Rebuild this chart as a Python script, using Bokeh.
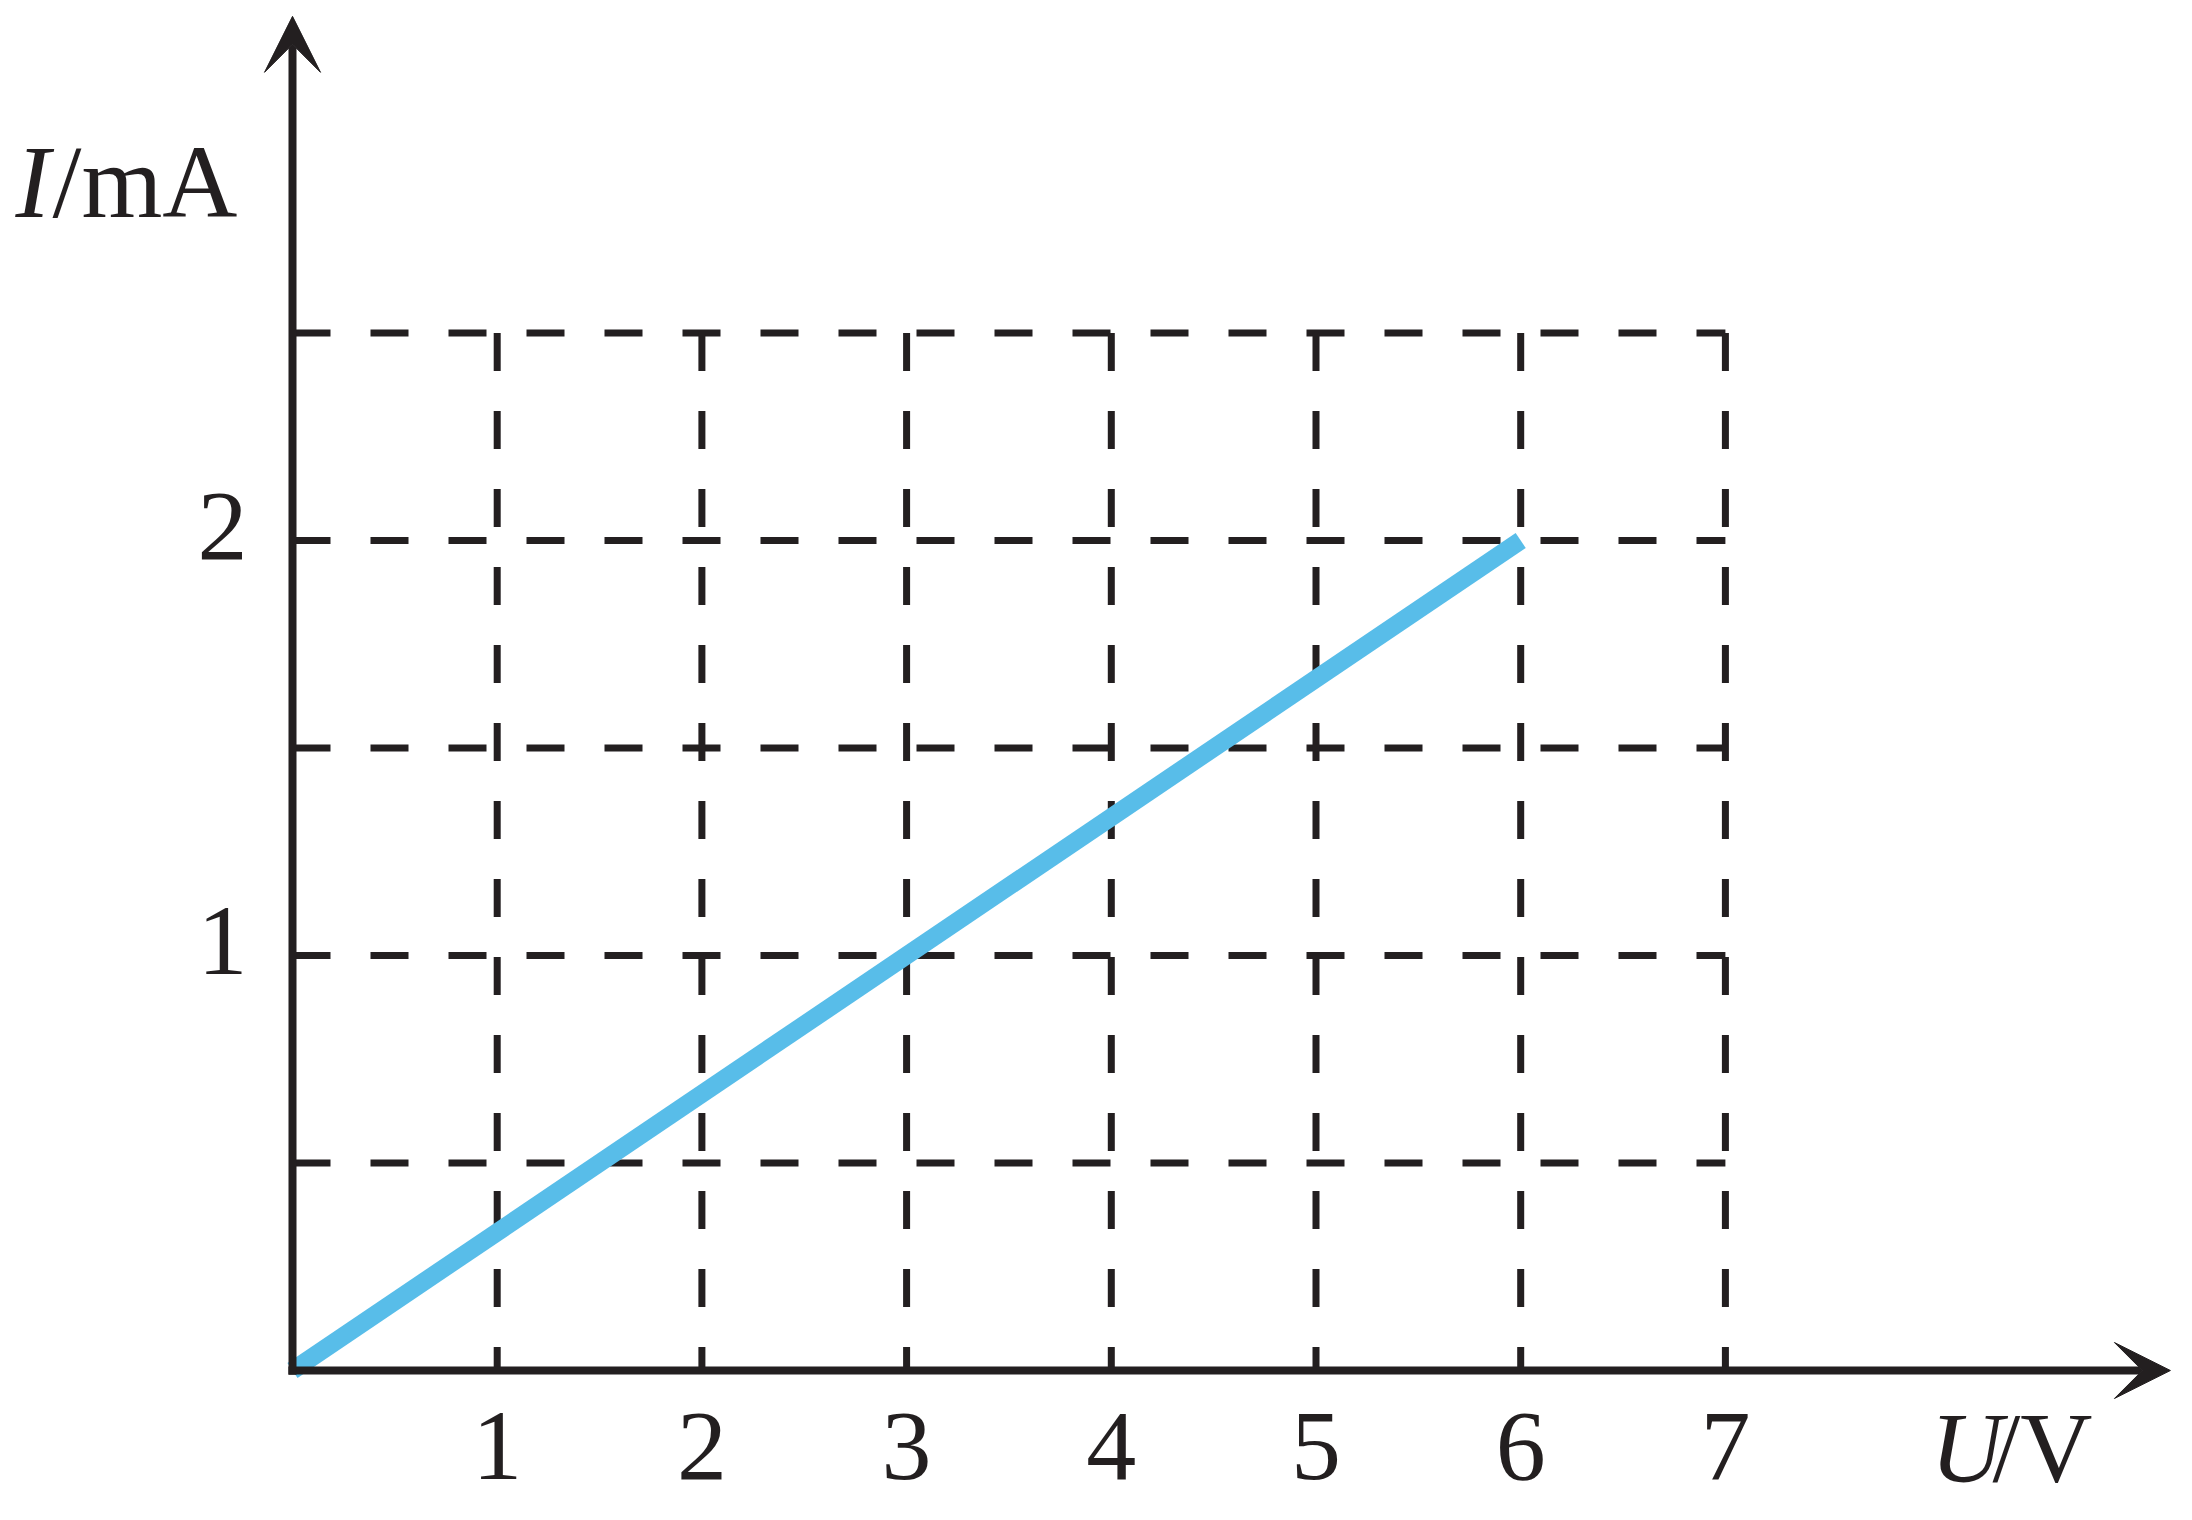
from bokeh.plotting import figure
from bokeh.models import Range1d, Arrow, VeeHead, Label, ColumnDataSource
from bokeh.core.properties import value
from bokeh.embed import file_html
from bokeh.resources import INLINE

# ---- data ----
u_line = [0, 6]          # U / V
i_line = [0, 2]          # I / mA
x_ticks = [1, 2, 3, 4, 5, 6, 7]
x_tick_labels = ["1", "2", "3", "4", "5", "6", "7"]
y_ticks = [1, 2]
y_tick_labels = ["1", "2"]
grid_x = [1, 2, 3, 4, 5, 6, 7]
grid_y = [0.5, 1, 1.5, 2, 2.5]
grid_x_max = 7
grid_y_max = 2.5
x_axis_end = 9.174
y_axis_end = 3.263

# ---- layout ----
W, H = 2176, 1504
ox, oy = 292, 1370          # origin in canvas pixels (oy from top)
sx, sy = 204.7, 415.0       # pixels per unit
TXT_SHIFT = 34              # empirical baseline correction (px)

p = figure(width=W, height=H, output_backend="svg", toolbar_location=None,
           x_axis_type=None, y_axis_type=None, min_border=0,
           x_range=Range1d(-ox / sx, (W - ox) / sx),
           y_range=Range1d(-(H - oy) / sy, oy / sy))
p.outline_line_color = None
p.grid.visible = False
p.background_fill_color = "white"
p.border_fill_color = "white"

INK = "#231f20"
FONT = value("Liberation Serif")
FS = value("100px")

# dashed grid
n_h = len(grid_y)
p.segment(x0=[0] * n_h, y0=grid_y, x1=[grid_x_max] * n_h, y1=grid_y,
          line_color=INK, line_width=7, line_dash="38 40")
n_v = len(grid_x)
p.segment(x0=grid_x, y0=[grid_y_max] * n_v, x1=grid_x, y1=[0] * n_v,
          line_color=INK, line_width=7, line_dash="38 40")

# data line
p.line(u_line, i_line, line_color="#58bde9", line_width=18)

# axes with arrows
p.add_layout(Arrow(x_start=-0.02, y_start=0, x_end=x_axis_end, y_end=0,
                   line_color=INK, line_width=8,
                   end=VeeHead(size=56, fill_color=INK, line_color=INK, line_width=1)))
p.add_layout(Arrow(x_start=0, y_start=-0.01, x_end=0, y_end=y_axis_end,
                   line_color=INK, line_width=8,
                   end=VeeHead(size=56, fill_color=INK, line_color=INK, line_width=1)))

# tick labels
xs = ColumnDataSource(dict(x=x_ticks, y=[0] * len(x_ticks), t=x_tick_labels))
p.text(x="x", y="y", text="t", source=xs, text_align="center",
       text_baseline="alphabetic", y_offset=110 - TXT_SHIFT, text_font=FONT,
       text_font_size=FS, text_color=INK)
ys = ColumnDataSource(dict(x=[0] * len(y_ticks), y=y_ticks, t=y_tick_labels))
p.text(x="x", y="y", text="t", source=ys, text_align="right",
       text_baseline="alphabetic", x_offset=-45, y_offset=20 - TXT_SHIFT, text_font=FONT,
       text_font_size=FS, text_color=INK)

# axis titles
def lab(px, py, t, style, size="104px"):
    p.add_layout(Label(x=(px - ox) / sx, y=(oy - py + TXT_SHIFT) / sy, text=t,
                       text_font="Liberation Serif",
                       text_font_size=size, text_font_style=style,
                       text_color=INK, text_baseline="alphabetic", text_align="left"))

lab(15, 215, "I", "italic")
lab(52, 215, "/mA", "normal")
lab(1930, 1481, "U", "italic", "100px")
lab(1992, 1481, "/V", "normal", "100px")

open("out.html", "w").write(file_html(p, INLINE))
